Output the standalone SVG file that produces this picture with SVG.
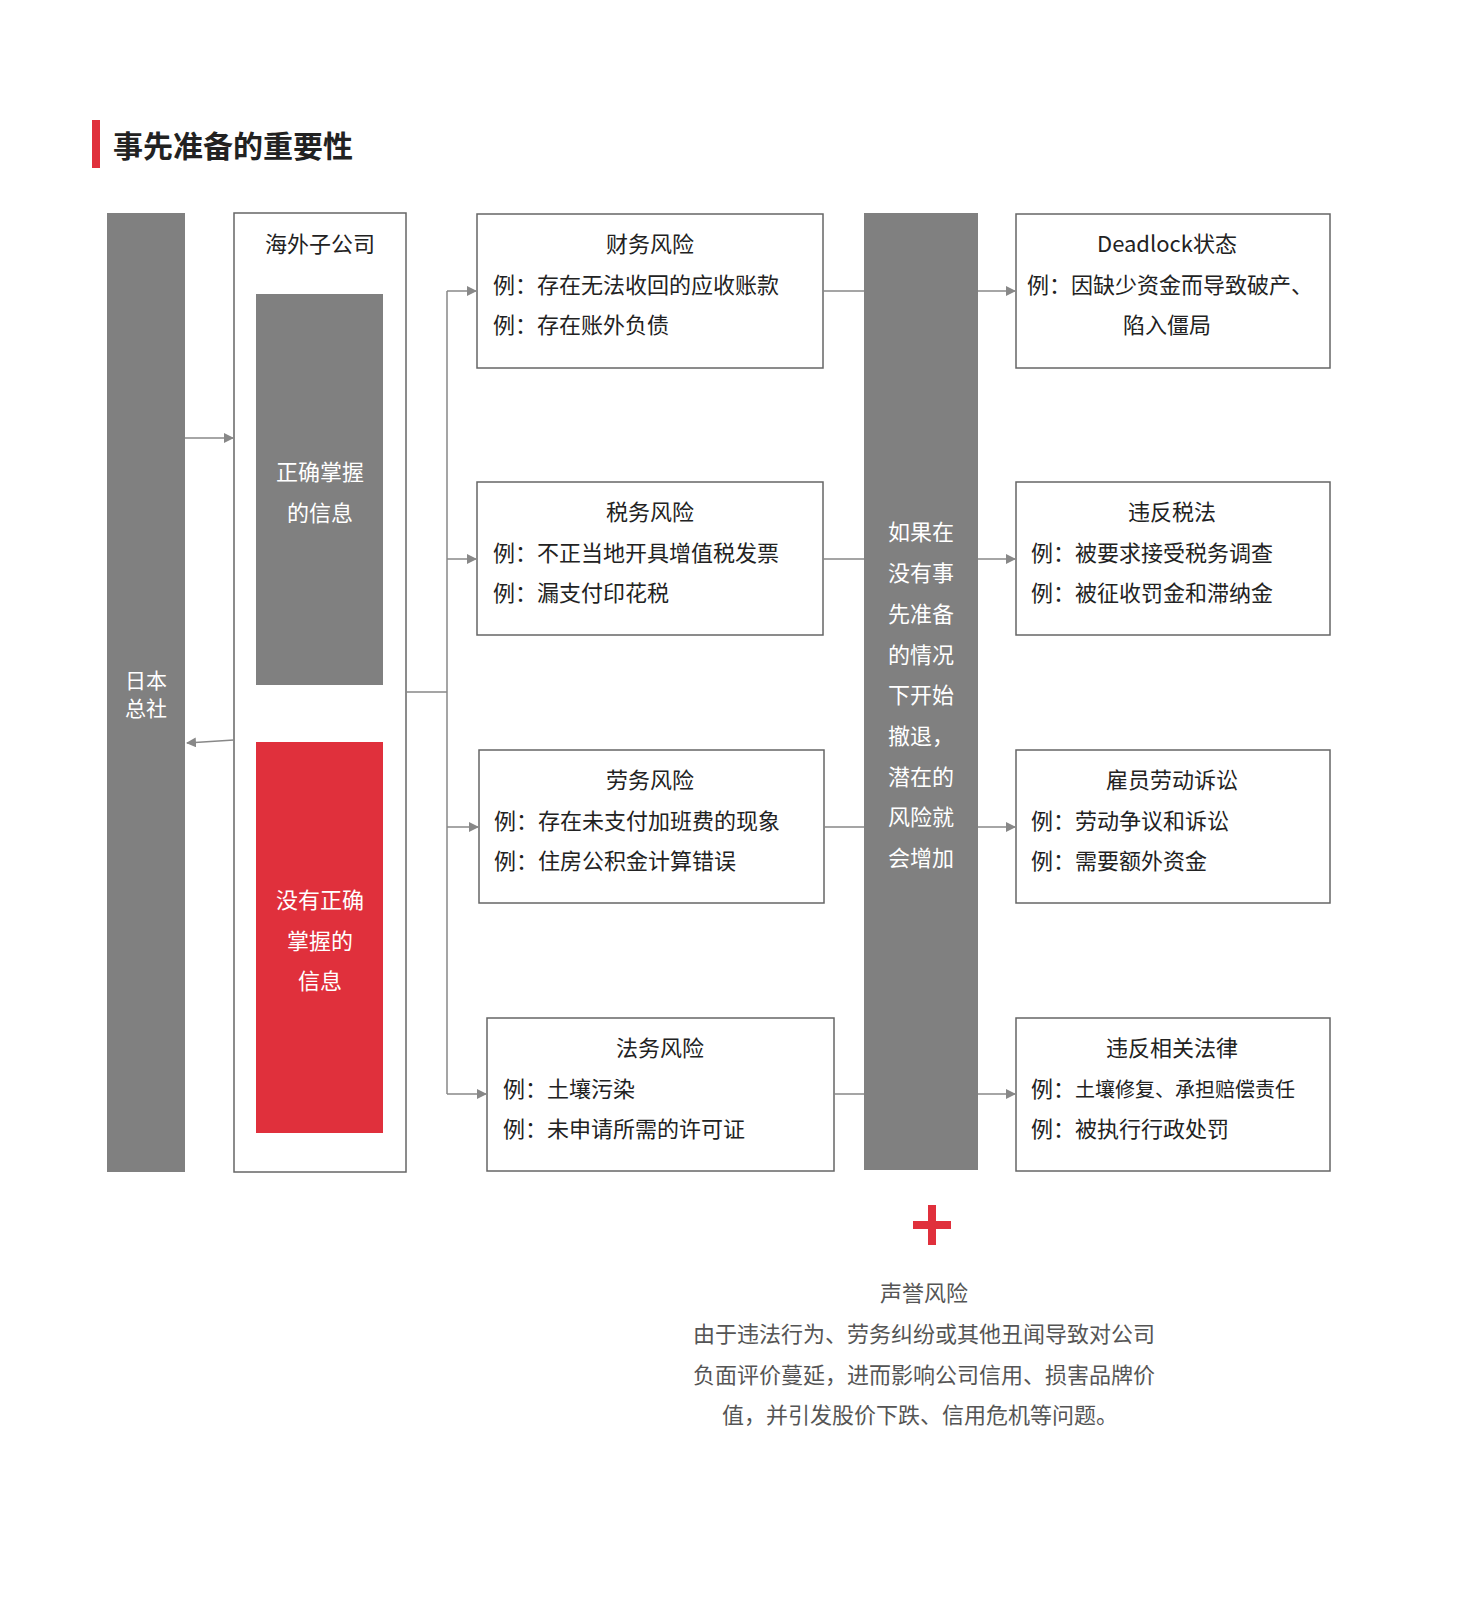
<svg xmlns="http://www.w3.org/2000/svg" width="1461" height="1599" viewBox="0 0 1461 1599">
<style>
text{font-family:"Noto Sans CJK SC","Liberation Sans",sans-serif;font-size:22px;fill:#222}
.w{fill:#fff}.c{text-anchor:middle}
.box{fill:#fff;stroke:#666;stroke-width:1.5}
.gray{fill:#808080}
.ln{stroke:#888;stroke-width:1.5;fill:none}
.g{fill:#555}
</style>
<defs><marker id="a" markerWidth="10" markerHeight="10" refX="9" refY="5" orient="auto" markerUnits="userSpaceOnUse"><path d="M0,0L10,5L0,10z" fill="#888"/></marker></defs>
<rect x="92" y="120" width="8" height="48" fill="#e0303c"/>
<text x="113" y="157" style="font-size:30px;font-weight:bold">事先准备的重要性</text>
<g id="hq"><rect class="gray" x="107" y="213" width="78" height="959"/><text class="w c" x="146" y="688" style="font-size:21px">日本</text><text class="w c" x="146" y="716" style="font-size:21px">总社</text></g>
<g id="sub"><rect class="box" x="234" y="213" width="172" height="959"/><text class="c" x="320" y="252">海外子公司</text>
<rect class="gray" x="256" y="294" width="127" height="391"/><text class="w c" x="320" y="480">正确掌握</text><text class="w c" x="320" y="521">的信息</text>
<rect x="256" y="742" width="127" height="391" fill="#e0303c"/><text class="w c" x="320" y="908">没有正确</text><text class="w c" x="320" y="949">掌握的</text><text class="w c" x="320" y="989">信息</text></g>
<g id="r1"><rect class="box" x="477" y="214" width="346" height="154"/><text class="c" x="650" y="252">财务风险</text><text x="493" y="293">例：存在无法收回的应收账款</text><text x="493" y="333">例：存在账外负债</text></g>
<g id="r2"><rect class="box" x="477" y="482" width="346" height="153"/><text class="c" x="650" y="520">税务风险</text><text x="493" y="561">例：不正当地开具增值税发票</text><text x="493" y="601">例：漏支付印花税</text></g>
<g id="r3"><rect class="box" x="479" y="750" width="345" height="153"/><text class="c" x="650" y="788">劳务风险</text><text x="494" y="829">例：存在未支付加班费的现象</text><text x="494" y="869">例：住房公积金计算错误</text></g>
<g id="r4"><rect class="box" x="487" y="1018" width="347" height="153"/><text class="c" x="660" y="1056">法务风险</text><text x="503" y="1097">例：土壤污染</text><text x="503" y="1137">例：未申请所需的许可证</text></g>
<g id="mid"><rect class="gray" x="864" y="213" width="114" height="957"/>
<text class="w c" x="921" y="540">如果在</text><text class="w c" x="921" y="581">没有事</text><text class="w c" x="921" y="622">先准备</text><text class="w c" x="921" y="663">的情况</text><text class="w c" x="921" y="703">下开始</text><text class="w c" x="921" y="744">撤退，</text><text class="w c" x="921" y="785">潜在的</text><text class="w c" x="921" y="825">风险就</text><text class="w c" x="921" y="866">会增加</text></g>
<g id="c1"><rect class="box" x="1016" y="214" width="314" height="154"/><text class="c" x="1167" y="252">Deadlock状态</text><text x="1027" y="293">例：因缺少资金而导致破产、</text><text class="c" x="1167" y="333">陷入僵局</text></g>
<g id="c2"><rect class="box" x="1016" y="482" width="314" height="153"/><text class="c" x="1172" y="520">违反税法</text><text x="1031" y="561">例：被要求接受税务调查</text><text x="1031" y="601">例：被征收罚金和滞纳金</text></g>
<g id="c3"><rect class="box" x="1016" y="750" width="314" height="153"/><text class="c" x="1172" y="788">雇员劳动诉讼</text><text x="1031" y="829">例：劳动争议和诉讼</text><text x="1031" y="869">例：需要额外资金</text></g>
<g id="c4"><rect class="box" x="1016" y="1018" width="314" height="153"/><text class="c" x="1172" y="1056">违反相关法律</text><text x="1031" y="1097">例：<tspan style="font-size:20px">土壤修复、承担赔偿责任</tspan></text><text x="1031" y="1137">例：被执行行政处罚</text></g>
<g id="connectors">
<path class="ln" d="M185,438H233" marker-end="url(#a)"/>
<path class="ln" d="M234,740L187,743" marker-end="url(#a)"/>
<path class="ln" d="M406,692H447M447,291V1094"/>
<path class="ln" d="M447,291H476" marker-end="url(#a)"/>
<path class="ln" d="M447,559H476" marker-end="url(#a)"/>
<path class="ln" d="M447,827H478" marker-end="url(#a)"/>
<path class="ln" d="M447,1094H486" marker-end="url(#a)"/>
<path class="ln" d="M823,291H864M823,559H864M824,827H864M834,1094H864"/>
<path class="ln" d="M978,291H1015" marker-end="url(#a)"/>
<path class="ln" d="M978,559H1015" marker-end="url(#a)"/>
<path class="ln" d="M978,827H1015" marker-end="url(#a)"/>
<path class="ln" d="M978,1094H1015" marker-end="url(#a)"/>
</g>
<g id="plus"><rect x="913" y="1221" width="38" height="8" fill="#e0303c"/><rect x="928" y="1205" width="8" height="40" fill="#e0303c"/></g>
<g id="rep"><text class="c g" x="924" y="1301">声誉风险</text><text class="c g" x="924" y="1342">由于违法行为、劳务纠纷或其他丑闻导致对公司</text><text class="c g" x="924" y="1383">负面评价蔓延，进而影响公司信用、损害品牌价</text><text class="c g" x="920" y="1423">值，并引发股价下跌、信用危机等问题。</text></g>
</svg>
